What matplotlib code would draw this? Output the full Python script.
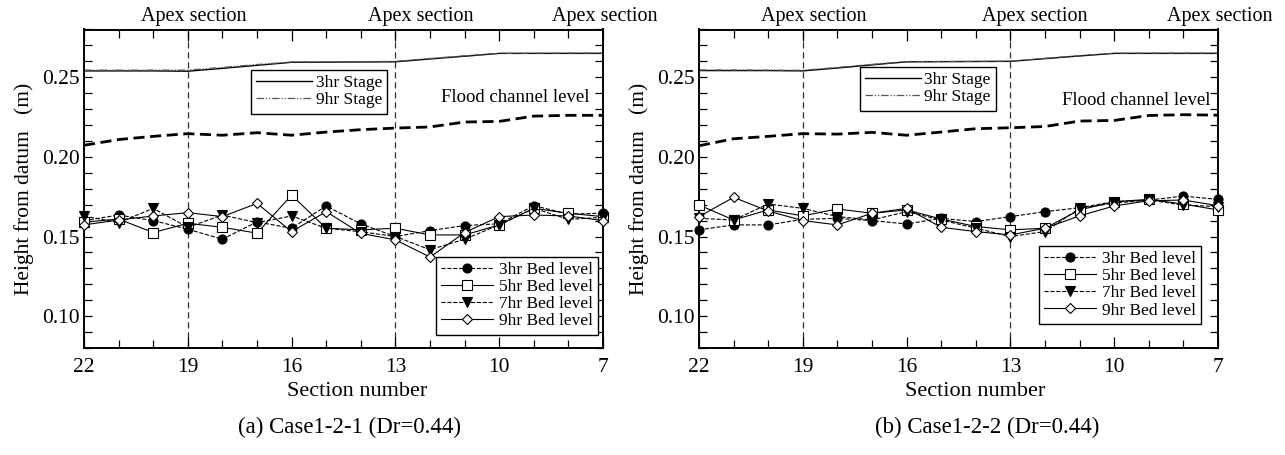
#Bed level and stage along the channel - two cases side by side
import matplotlib
matplotlib.use("Agg")
import matplotlib.pyplot as plt
from matplotlib.ticker import MultipleLocator, FixedLocator
from matplotlib.transforms import blended_transform_factory
import numpy as np

plt.rcParams['font.family'] = ['Liberation Serif', 'DejaVu Serif']

#Section numbers (upstream -> downstream)
sections = [22, 21, 20, 19, 18, 17, 16, 15, 14, 13, 12, 11, 10, 9, 8, 7]
apex_sections = [19, 13]

#Case1-2-1
stage3_a = [0.2540, 0.2540, 0.2540, 0.2538, 0.2556, 0.2575, 0.2594, 0.2595,
            0.2596, 0.2597, 0.2615, 0.2632, 0.2650, 0.2650, 0.2650, 0.2650]
stage9_a = [0.2545, 0.2545, 0.2545, 0.2545, 0.2562, 0.2580, 0.2596, 0.2597,
            0.2598, 0.2600, 0.2618, 0.2635, 0.2650, 0.2651, 0.2652, 0.2652]
flood_a = [0.2073, 0.2109, 0.2129, 0.2146, 0.2136, 0.2152, 0.2136, 0.2156,
           0.2171, 0.2181, 0.2188, 0.2219, 0.2223, 0.2256, 0.2261, 0.2261]
bed3_a = [0.1600, 0.1635, 0.1600, 0.1546, 0.1483, 0.1592, 0.1552, 0.1692,
          0.1579, 0.1500, 0.1537, 0.1569, 0.1580, 0.1694, 0.1641, 0.1646]
bed5_a = [0.1590, 0.1610, 0.1525, 0.1583, 0.1558, 0.1521, 0.1760, 0.1552,
          0.1542, 0.1552, 0.1510, 0.1510, 0.1573, 0.1677, 0.1646, 0.1625]
bed7_a = [0.1629, 0.1587, 0.1677, 0.1558, 0.1635, 0.1587, 0.1629, 0.1552,
          0.1530, 0.1500, 0.1417, 0.1483, 0.1573, 0.1677, 0.1608, 0.1620]
bed9_a = [0.1573, 0.1604, 0.1629, 0.1650, 0.1625, 0.1708, 0.1531, 0.1656,
          0.1520, 0.1479, 0.1371, 0.1525, 0.1625, 0.1635, 0.1629, 0.1600]

#Case1-2-2
stage3_b = [0.2542, 0.2542, 0.2542, 0.2540, 0.2558, 0.2578, 0.2597, 0.2598,
            0.2599, 0.2600, 0.2617, 0.2634, 0.2650, 0.2650, 0.2650, 0.2650]
stage9_b = [0.2546, 0.2546, 0.2545, 0.2544, 0.2562, 0.2581, 0.2598, 0.2599,
            0.2600, 0.2601, 0.2619, 0.2636, 0.2651, 0.2652, 0.2652, 0.2652]
flood_b = [0.2070, 0.2114, 0.2129, 0.2146, 0.2143, 0.2154, 0.2136, 0.2156,
           0.2177, 0.2183, 0.2191, 0.2225, 0.2229, 0.2260, 0.2265, 0.2262]
bed3_b = [0.1542, 0.1573, 0.1573, 0.1608, 0.1614, 0.1600, 0.1579, 0.1614,
          0.1594, 0.1625, 0.1656, 0.1681, 0.1719, 0.1729, 0.1754, 0.1733]
bed5_b = [0.1698, 0.1604, 0.1667, 0.1630, 0.1673, 0.1646, 0.1667, 0.1610,
          0.1563, 0.1542, 0.1552, 0.1667, 0.1719, 0.1733, 0.1704, 0.1667]
bed7_b = [0.1614, 0.1604, 0.1704, 0.1677, 0.1625, 0.1604, 0.1656, 0.1604,
          0.1552, 0.1500, 0.1531, 0.1677, 0.1710, 0.1729, 0.1698, 0.1688]
bed9_b = [0.1625, 0.1746, 0.1660, 0.1600, 0.1573, 0.1646, 0.1677, 0.1558,
          0.1531, 0.1510, 0.1552, 0.1630, 0.1692, 0.1725, 0.1729, 0.1694]

cases = [
    dict(stage3=stage3_a, stage9=stage9_a, flood=flood_a,
         beds=[bed3_a, bed5_a, bed7_a, bed9_a],
         caption="(a) Case1-2-1 (Dr=0.44)",
         apex_x=[18.82, 12.26, 6.94], flood_xy=(9.54, 0.2373),
         stage_leg=(0.584, 0.873), bed_leg=(0.99, 0.286),
         xlabel_x=357, caption_x=349),
    dict(stage3=stage3_b, stage9=stage9_b, flood=flood_b,
         beds=[bed3_b, bed5_b, bed7_b, bed9_b],
         caption="(b) Case1-2-2 (Dr=0.44)",
         apex_x=[18.68, 12.29, 6.94], flood_xy=(9.36, 0.2354),
         stage_leg=(0.572, 0.882), bed_leg=(0.967, 0.32),
         xlabel_x=975, caption_x=987),
]

bed_labels = ["3hr Bed level", "5hr Bed level", "7hr Bed level", "9hr Bed level"]
bed_markers = ['o', 's', 'v', 'D']
bed_faces = ['black', 'white', 'black', 'white']
bed_styles = ['--', '-', '--', '-']
bed_sizes = [6.5, 7, 6.5, 5.5]

W, H = 1285, 455
fig = plt.figure(figsize=(W/100, H/100), dpi=100)

axes_left = [84, 699]
for i, case in enumerate(cases):
    ax = fig.add_axes([axes_left[i]/W, 1-348/H, 519/W, 318.5/H])
    ax.set_xlim(22, 7)
    ax.set_ylim(0.08, 0.28)

    #Apex section markers
    for s in apex_sections:
        ax.axvline(s, color='#333333', lw=0.9, ls=(0, (5, 3)), zorder=1)

    l1, = ax.plot(sections, case["stage3"], color='black', lw=1.0, label="3hr Stage")
    l2, = ax.plot(sections, case["stage9"], color='#555555', lw=0.9,
                  ls=(0, (6, 1.5, 1, 1.5, 1, 1.5)), label="9hr Stage")
    ax.plot(sections, case["flood"], color='black', lw=2.0, ls=(0, (4, 2)))

    bed_lines = []
    for vals, lab, mk, fc, st, ms in zip(case["beds"], bed_labels, bed_markers,
                                         bed_faces, bed_styles, bed_sizes):
        ln, = ax.plot(sections, vals, color='black', lw=0.8, ls=st, marker=mk,
                      markersize=ms, markerfacecolor=fc, markeredgecolor='black',
                      markeredgewidth=0.8, label=lab, zorder=3, clip_on=False)
        bed_lines.append(ln)

    leg1 = ax.legend(handles=[l1, l2], loc='upper right', bbox_to_anchor=case["stage_leg"],
                     borderaxespad=0, fancybox=False, edgecolor='black', framealpha=1,
                     fontsize=12.5, handlelength=3.2, handletextpad=0.2,
                     labelspacing=0.05, borderpad=0.3)
    leg1.get_frame().set_linewidth(1.0)
    ax.add_artist(leg1)
    leg2 = ax.legend(handles=bed_lines, loc='upper right', bbox_to_anchor=case["bed_leg"],
                     borderaxespad=0, fancybox=False, edgecolor='black', framealpha=1,
                     fontsize=12.5, handlelength=3.0, handletextpad=0.3,
                     labelspacing=0.05, borderpad=0.3)
    leg2.get_frame().set_linewidth(1.0)
    leg2.set_zorder(5)

    ax.text(case["flood_xy"][0], case["flood_xy"][1], "Flood channel level",
            ha='center', va='center', fontsize=13.5)

    trans = blended_transform_factory(ax.transData, ax.transAxes)
    for xa in case["apex_x"]:
        ax.text(xa, 1.042, "Apex section", transform=trans, ha='center',
                va='center', fontsize=14.5)

    #Ticks
    ax.xaxis.set_major_locator(FixedLocator([22, 19, 16, 13, 10, 7]))
    ax.xaxis.set_minor_locator(MultipleLocator(1))
    ax.yaxis.set_major_locator(MultipleLocator(0.05))
    ax.yaxis.set_minor_locator(MultipleLocator(0.01))
    ax.yaxis.set_major_formatter(plt.FormatStrFormatter('%.2f'))
    ax.tick_params(axis='both', which='both', direction='in', top=True, right=True,
                   labelsize=15.5, width=0.9)
    ax.tick_params(axis='x', which='major', length=8, pad=7)
    ax.tick_params(axis='x', which='minor', length=6)
    ax.tick_params(axis='y', which='major', length=6, pad=3)
    ax.tick_params(axis='y', which='minor', length=6)
    for sp in ax.spines.values():
        sp.set_linewidth(1.4)

    ax.set_ylabel("Height from datum   (m)", fontsize=15.5, labelpad=6)

    fig.text(case["xlabel_x"]/W, 1-391/H, "Section number", ha='center',
             va='center', fontsize=16)
    fig.text(case["caption_x"]/W, 1-427/H, case["caption"], ha='center',
             va='center', fontsize=16.5)

fig.savefig("out.png", dpi=100)
